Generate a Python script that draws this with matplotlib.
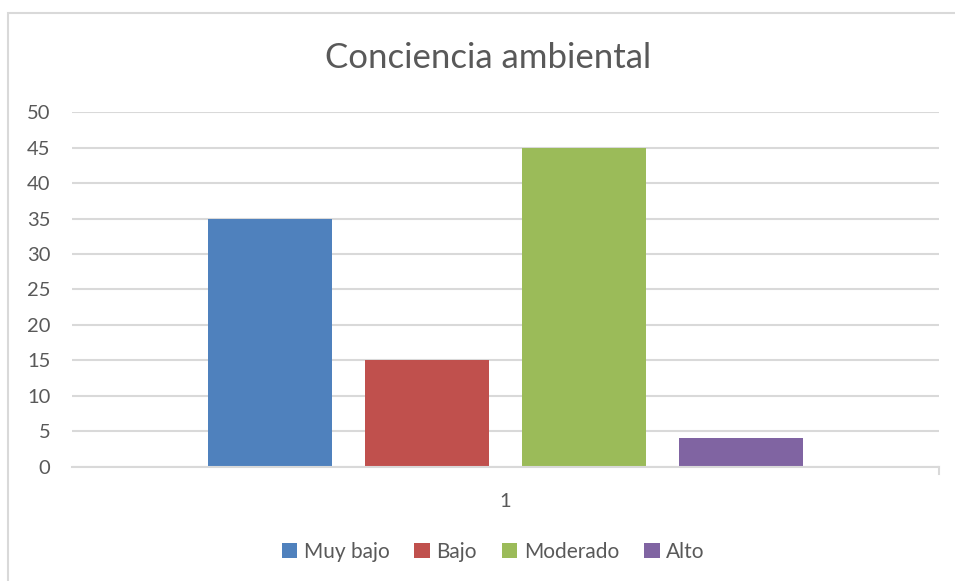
import matplotlib
matplotlib.use("Agg")
import matplotlib.pyplot as plt
from matplotlib.patches import Rectangle
import numpy as np

plt.rcParams['font.family'] = ['Lato', 'DejaVu Sans']

title = "Conciencia ambiental"
categories = ["1"]
series_names = ["Muy bajo", "Bajo", "Moderado", "Alto"]
series_values = [35, 15, 45, 4]
colors = ["#4F81BD", "#C0504D", "#9BBB59", "#8064A2"]
yticks = [0, 5, 10, 15, 20, 25, 30, 35, 40, 45, 50]

text_color = "#595959"
grid_color = "#D9D9D9"

fig = plt.figure(figsize=(9.55, 5.81), dpi=100)
W, H = 955, 581

# chart border
fig.patches.append(Rectangle((8 / W, -0.1), 1.2, 1 - 13 / H + 0.1,
                             transform=fig.transFigure, fill=False,
                             edgecolor=grid_color, linewidth=1.5))

ax = fig.add_axes([72 / W, 1 - 466.7 / H, (939 - 72) / W, (466.7 - 112.2) / H])

n = len(series_names)
bar_w = 0.143
step = 0.181
x = np.arange(len(categories))
offsets = (np.arange(n) - (n - 1) / 2) * step
for i, (name, val, col) in enumerate(zip(series_names, series_values, colors)):
    ax.bar(x + offsets[i], [val], width=bar_w, color=col, label=name, zorder=3)

ax.set_xlim(-0.5, len(categories) - 0.5)
ax.set_ylim(0, 50)
ax.set_yticks(yticks)
ax.set_yticklabels([str(t) for t in yticks])
ax.set_xticks(x)
ax.set_xticklabels(categories)
ax.yaxis.grid(True, color=grid_color, linewidth=1.5, zorder=0)
ax.tick_params(axis='y', length=0, labelsize=14.5, labelcolor=text_color, pad=15.5)
ax.tick_params(axis='x', length=0, labelsize=14.5, labelcolor=text_color, pad=19)
for s in ['top', 'right', 'left']:
    ax.spines[s].set_visible(False)
ax.spines['bottom'].set_color(grid_color)
ax.spines['bottom'].set_linewidth(1.5)
ax.spines['bottom'].set_zorder(4)
# right-edge tick mark of category axis
ax.plot([1, 1], [0, -0.02], transform=ax.transAxes, color=grid_color,
        linewidth=1.5, clip_on=False)

fig.text(488 / W, 1 - 58 / H, title, ha='center', va='center',
         fontsize=25, color=text_color)

leg = fig.legend(loc='center', bbox_to_anchor=(493 / W, 1 - 552 / H), ncol=4,
                 frameon=False, fontsize=15, handlelength=0.75, handleheight=0.75,
                 handletextpad=0.3, columnspacing=1.2)
for t in leg.get_texts():
    t.set_color(text_color)

fig.savefig("out.png", dpi=100)
